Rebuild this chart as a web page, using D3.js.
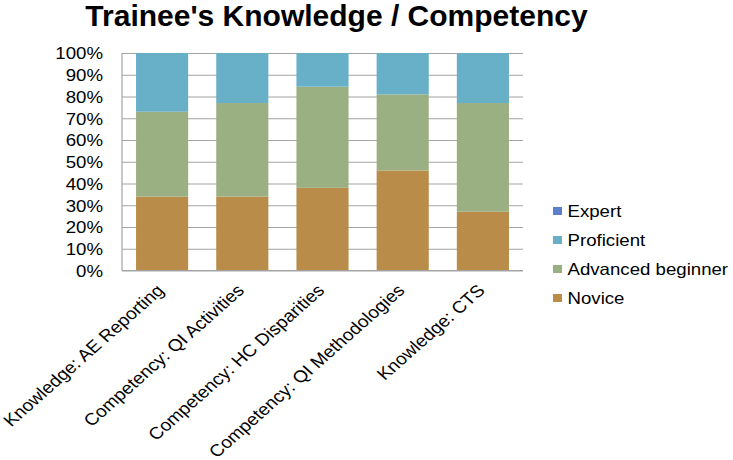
<!DOCTYPE html>
<html><head><meta charset="utf-8">
<script src="https://cdn.jsdelivr.net/npm/d3@7"></script>
<style>body{margin:0;background:#fff}svg{display:block}text{font-family:"Liberation Sans",Arial,sans-serif;fill:#000}</style>
</head><body>
<svg id="c" width="733" height="460"></svg>
<script>
const categories = ["Knowledge: AE Reporting","Competency: QI Activities","Competency: HC Disparities","Competency: QI Methodologies","Knowledge: CTS"];
const novice = [34, 34, 38, 46, 27];
const advanced = [39, 43, 46.5, 35, 50];
const proficient = [27, 23, 15.5, 19, 23];
const expert = [0, 0, 0, 0, 0];
const seriesNames = ["Novice","Advanced beginner","Proficient","Expert"];
const yTicks = [0,10,20,30,40,50,60,70,80,90,100];
const title = "Trainee's Knowledge / Competency";

const colors = {"Novice":"#b98c4a","Advanced beginner":"#9bb082","Proficient":"#68afc8","Expert":"#5b7fcc"};
const sx = 1.13;
const fs = 16.5;
const fsx = 16.9;
const L=122, R=523, T=53, B=270.5;

const rows = categories.map((c,i)=>({cat:c,"Novice":novice[i],"Advanced beginner":advanced[i],"Proficient":proficient[i],"Expert":expert[i]}));
const stack = d3.stack().keys(seriesNames)(rows);

const svg = d3.select("#c");
const x = d3.scaleBand().domain(categories).range([L,R]).paddingInner(0.35).paddingOuter(0.175);
const y = d3.scaleLinear().domain([0,100]).range([B,T]);

// grid + y labels
const ga = svg.append("g").attr("transform",`translate(${L},0)`)
  .call(d3.axisLeft(y).tickValues(yTicks).tickFormat(d=>d+"%").tickSize(-(R-L)).tickPadding(0));
ga.select(".domain").remove();
ga.selectAll(".tick line").attr("stroke","#a3a3a3").attr("stroke-width",1.2);
ga.selectAll(".tick text").attr("x",0).attr("dy",null).attr("y",0)
  .attr("transform",`translate(-19,${fs*0.35}) scale(${sx},1)`)
  .style("font-size",fs+"px").attr("fill","#000").attr("font-family",null);

// bars
svg.append("g").selectAll("g").data(stack).join("g").attr("fill",d=>colors[d.key])
  .selectAll("rect").data(d=>d).join("rect")
  .attr("x",d=>x(d.data.cat)).attr("width",x.bandwidth())
  .attr("y",d=>y(d[1])).attr("height",d=>y(d[0])-y(d[1]));

// axes lines
svg.append("line").attr("x1",L).attr("x2",L).attr("y1",T).attr("y2",B).attr("stroke","#a3a3a3").attr("stroke-width",1.2);
svg.append("line").attr("x1",L).attr("x2",R).attr("y1",B).attr("y2",B).attr("stroke","#a3a3a3").attr("stroke-width",1.2);

// x labels
svg.append("g").selectAll("text").data(categories).join("text")
  .attr("transform",d=>`translate(${x(d)+x.bandwidth()/2+3},${B+21}) scale(${sx},1) rotate(-45)`)
  .attr("text-anchor","end").style("font-size",fsx+"px").text(d=>d);

// title
svg.append("text").attr("x",336.5).attr("y",26).attr("text-anchor","middle")
  .style("font-size","30px").style("font-weight","bold").text(title);

// legend
const legendOrder = seriesNames.slice().reverse();
const lg = svg.append("g").selectAll("g").data(legendOrder).join("g")
  .attr("transform",(d,i)=>`translate(553,${211+i*29})`);
lg.append("rect").attr("x",0).attr("y",-4).attr("width",9).attr("height",8).attr("fill",d=>colors[d]);
lg.append("text").attr("transform",`translate(14.5,${fs*0.35}) scale(${sx},1)`).style("font-size",fs+"px").text(d=>d);
</script>
</body></html>
